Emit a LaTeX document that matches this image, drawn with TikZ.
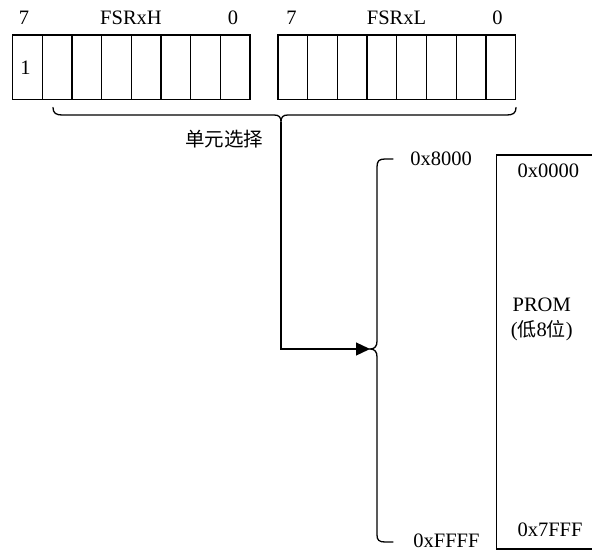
\documentclass[tikz,border=0pt]{standalone}
\usepackage{fontspec}
\setmainfont{Liberation Serif}
\newfontfamily\cjk{Noto Sans CJK SC}
\usetikzlibrary{arrows.meta}
\begin{document}
\begin{tikzpicture}[x=1pt,y=-1pt,
  lbl/.style={inner sep=0pt,anchor=base,font=\fontsize{20.5}{22}\selectfont},
  cjklbl/.style={inner sep=0pt,anchor=base,font=\fontsize{19.5}{22}\selectfont\cjk},
  ln/.style={line width=1.3pt},
  bracel/.style={line width=1.3pt,line cap=round}]
\useasboundingbox (0,0) rectangle (592,551);
% registers
\foreach \i in {0,...,7}{
  \draw[ln] ({12.7+\i*29.66},35) rectangle ({12.7+(\i+1)*29.66},99.5);
  \draw[ln] ({278+\i*29.71},35) rectangle ({278+(\i+1)*29.71},99.5);
}
\node[lbl] (h7) at (24,25) {7};
\node[lbl] (hname) at (131,25) {FSRxH};
\node[lbl] (h0) at (233,25) {0};
\node[lbl] (l7) at (291.5,25) {7};
\node[lbl] (lname) at (396.5,25) {FSRxL};
\node[lbl] (l0) at (497.5,25) {0};
\node[lbl] (one) at (25.5,75) {1};
% top brace
\coordinate (bl) at (53,107.5);
\coordinate (bt) at (281,122);
\coordinate (br) at (516,107.5);
\draw[bracel] (bl) .. controls (53,113) and (56,115) .. (62,115) -- (274,115)
  .. controls (279,115) and (281,117) .. (bt)
  .. controls (281,117) and (283,115) .. (288,115) -- (507,115)
  .. controls (513,115) and (516,113) .. (br);
\node[cjklbl] (sel) at (224,146) {单元选择};
% left brace
\coordinate (lt) at (370,349);
\coordinate (ltop) at (393,159);
\coordinate (lbot) at (393,542);
\draw[bracel] (ltop) -- (385,159) .. controls (379,159) and (377,161) .. (377,167) -- (377,341)
  .. controls (377,346) and (375,349) .. (lt)
  .. controls (375,349) and (377,352) .. (377,357) -- (377,535)
  .. controls (377,540) and (379,542) .. (385,542) -- (lbot);
% connector
\draw[ln,-{Triangle[length=14pt,width=13pt]}] (bt) |- (lt);
\node[lbl] (a8000) at (441,165) {0x8000};
\node[lbl] (affff) at (446.5,547) {0xFFFF};
% PROM
\coordinate (pt) at (596,155);
\coordinate (pb) at (596,549);
\draw[ln] (pt) -- (496.5,155) -- (496.5,549) -- (pb);
\node[lbl] (a0000) at (548.3,177) {0x0000};
\node[lbl] (a7fff) at (550,536.5) {0x7FFF};
\node[lbl] (prom) at (541.7,311.5) {PROM};
\node[lbl] (low8) at (541.7,336) {({\cjk\fontsize{19}{20}\selectfont 低}8{\cjk\fontsize{19}{20}\selectfont 位})};
\end{tikzpicture}
\end{document}
